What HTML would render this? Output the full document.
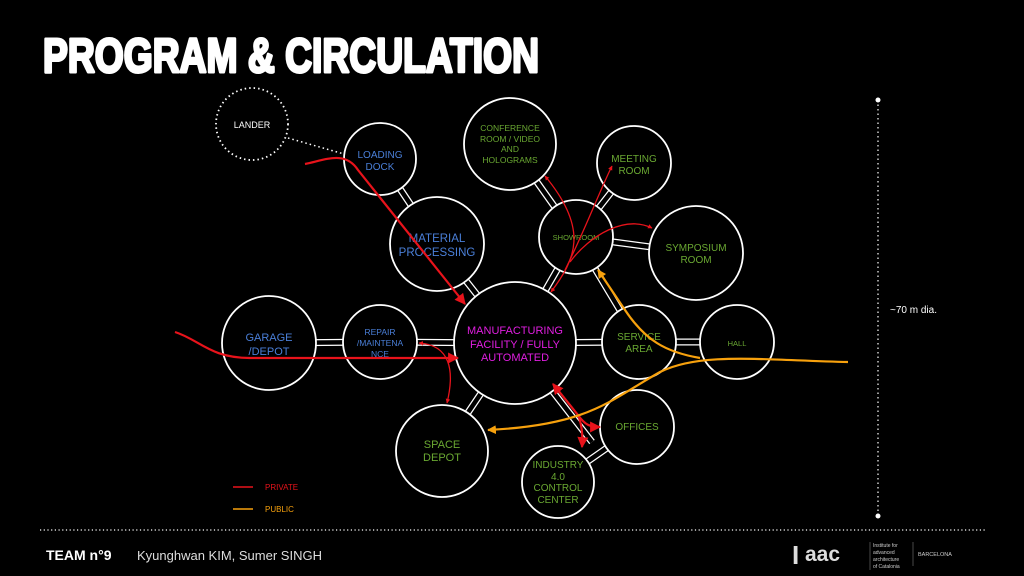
<!DOCTYPE html>
<html><head><meta charset="utf-8"><style>
html,body{margin:0;padding:0;background:#000;}
svg{display:block;}
text{font-family:"Liberation Sans",sans-serif;}
</style></head><body>
<svg width="1024" height="576" viewBox="0 0 1024 576" xmlns="http://www.w3.org/2000/svg">
<defs>
<marker id="ar" viewBox="0 0 10 10" refX="9" refY="5" markerWidth="5" markerHeight="5" orient="auto-start-reverse"><path d="M0,0 L10,5 L0,10 z" fill="#e8131b"/></marker>
<marker id="ar2" viewBox="0 0 10 10" refX="9" refY="5" markerWidth="3.5" markerHeight="3.5" orient="auto-start-reverse"><path d="M0,0 L10,5 L0,10 z" fill="#e8131b"/></marker>
<marker id="ao" viewBox="0 0 10 10" refX="9" refY="5" markerWidth="4" markerHeight="4" orient="auto-start-reverse"><path d="M0,0 L10,5 L0,10 z" fill="#f7a10d"/></marker>
</defs>
<rect width="1024" height="576" fill="#000"/>
<text x="43" y="72" font-size="48" font-weight="bold" fill="#fff" textLength="496" lengthAdjust="spacingAndGlyphs" stroke="#fff" stroke-width="3" stroke-linejoin="round">PROGRAM &amp; CIRCULATION</text>

<g stroke="#fff" stroke-width="7" fill="none">
<line x1="380" y1="159" x2="437" y2="244"/><line x1="437" y1="244" x2="515" y2="343"/>
<line x1="510" y1="144" x2="576" y2="237"/><line x1="634" y1="163" x2="576" y2="237"/>
<line x1="576" y1="237" x2="696" y2="253"/><line x1="576" y1="237" x2="515" y2="343"/>
<line x1="576" y1="237" x2="639" y2="342"/><line x1="639" y1="342" x2="737" y2="342"/>
<line x1="515" y1="343" x2="639" y2="342"/><line x1="269" y1="343" x2="380" y2="342"/>
<line x1="380" y1="342" x2="515" y2="343"/><line x1="515" y1="343" x2="442" y2="451"/>
<line x1="515" y1="343" x2="592" y2="442"/><line x1="637" y1="427" x2="558" y2="482"/>
</g>
<g stroke="#000" stroke-width="4.5" fill="none">
<line x1="380" y1="159" x2="437" y2="244"/><line x1="437" y1="244" x2="515" y2="343"/>
<line x1="510" y1="144" x2="576" y2="237"/><line x1="634" y1="163" x2="576" y2="237"/>
<line x1="576" y1="237" x2="696" y2="253"/><line x1="576" y1="237" x2="515" y2="343"/>
<line x1="576" y1="237" x2="639" y2="342"/><line x1="639" y1="342" x2="737" y2="342"/>
<line x1="515" y1="343" x2="639" y2="342"/><line x1="269" y1="343" x2="380" y2="342"/>
<line x1="380" y1="342" x2="515" y2="343"/><line x1="515" y1="343" x2="442" y2="451"/>
<line x1="515" y1="343" x2="592" y2="442"/><line x1="637" y1="427" x2="558" y2="482"/>
</g>
<line x1="288" y1="138" x2="344" y2="154" stroke="#fff" stroke-width="1.5" stroke-dasharray="1.5 3"/>

<g fill="#000" stroke="#fff" stroke-width="1.8">
<circle cx="252" cy="124" r="36" stroke-dasharray="1.5 3"/>
<circle cx="380" cy="159" r="36"/>
<circle cx="437" cy="244" r="47"/>
<circle cx="510" cy="144" r="46"/>
<circle cx="634" cy="163" r="37"/>
<circle cx="576" cy="237" r="37"/>
<circle cx="696" cy="253" r="47"/>
<circle cx="515" cy="343" r="61"/>
<circle cx="269" cy="343" r="47"/>
<circle cx="380" cy="342" r="37"/>
<circle cx="639" cy="342" r="37"/>
<circle cx="737" cy="342" r="37"/>
<circle cx="637" cy="427" r="37"/>
<circle cx="442" cy="451" r="46"/>
<circle cx="558" cy="482" r="36"/>
</g>

<g text-anchor="middle" font-size="10">
<text x="252" y="128" fill="#fff" font-size="9">LANDER</text>
<text x="380" y="158" fill="#4a7fd8">LOADING</text><text x="380" y="170" fill="#4a7fd8">DOCK</text>
<text x="437" y="242" fill="#4a7fd8" font-size="11.5">MATERIAL</text><text x="437" y="256" fill="#4a7fd8" font-size="11.5">PROCESSING</text>
<g fill="#6aa832" font-size="8.5"><text x="510" y="131">CONFERENCE</text><text x="510" y="142">ROOM / VIDEO</text><text x="510" y="152">AND</text><text x="510" y="163">HOLOGRAMS</text></g>
<text x="634" y="162" fill="#6aa832">MEETING</text><text x="634" y="174" fill="#6aa832">ROOM</text>
<text x="576" y="240" fill="#6aa832" font-size="7.5">SHOWROOM</text>
<text x="696" y="251" fill="#6aa832">SYMPOSIUM</text><text x="696" y="263" fill="#6aa832">ROOM</text>
<g fill="#e01ee0" font-size="11"><text x="515" y="334">MANUFACTURING</text><text x="515" y="348">FACILITY / FULLY</text><text x="515" y="361">AUTOMATED</text></g>
<text x="269" y="341" fill="#4a7fd8" font-size="11">GARAGE</text><text x="269" y="355" fill="#4a7fd8" font-size="11">/DEPOT</text>
<g fill="#4a7fd8" font-size="8.5"><text x="380" y="335">REPAIR</text><text x="380" y="346">/MAINTENA</text><text x="380" y="357">NCE</text></g>
<text x="639" y="340" fill="#6aa832">SERVICE</text><text x="639" y="352" fill="#6aa832">AREA</text>
<text x="737" y="346" fill="#6aa832" font-size="7.5">HALL</text>
<text x="637" y="430" fill="#6aa832">OFFICES</text>
<text x="442" y="448" fill="#6aa832" font-size="11">SPACE</text><text x="442" y="461" fill="#6aa832" font-size="11">DEPOT</text>
<g fill="#6aa832"><text x="558" y="468">INDUSTRY</text><text x="558" y="480">4.0</text><text x="558" y="491">CONTROL</text><text x="558" y="503">CENTER</text></g>
</g>

<g fill="none" stroke="#e8131b">
<path d="M305,164 C325,160 345,150 358,170 L465,304" stroke-width="2.2" marker-end="url(#ar)"/>
<path d="M175,332 C200,340 210,358 250,358 L458,358" stroke-width="2.2" marker-end="url(#ar)"/>
<path d="M419,343 C450,345 455,370 447,403" stroke-width="1.3" marker-start="url(#ar2)" marker-end="url(#ar2)"/>
<path d="M551,292 C575,260 590,230 545,176" stroke-width="1.3" marker-start="url(#ar2)" marker-end="url(#ar2)"/>
<path d="M565,270 C585,230 600,190 612,166" stroke-width="1.3" marker-end="url(#ar2)"/>
<path d="M570,262 C590,235 625,215 652,228" stroke-width="1.3" marker-end="url(#ar2)"/>
<path d="M553,384 L578,415 C585,425 590,427 600,427" stroke-width="2.2" marker-start="url(#ar)" marker-end="url(#ar)"/>
<path d="M578,415 C582,425 583,435 582,447" stroke-width="2.2" marker-end="url(#ar)"/>
</g>
<g fill="none" stroke="#f7a10d" stroke-width="2.2">
<path d="M848,362 C760,360 700,352 660,372 C610,400 590,425 488,430" marker-end="url(#ao)"/>
<path d="M700,358 C665,352 645,340 625,310 L598,270" marker-end="url(#ao)"/>
</g>

<line x1="878" y1="100" x2="878" y2="516" stroke="#fff" stroke-width="1.2" stroke-dasharray="1.5 3"/>
<circle cx="878" cy="100" r="2.5" fill="#fff"/><circle cx="878" cy="516" r="2.5" fill="#fff"/>
<text x="890" y="313" fill="#fff" font-size="10">~70 m dia.</text>

<line x1="233" y1="487" x2="253" y2="487" stroke="#e8131b" stroke-width="1.5"/>
<text x="265" y="490" fill="#e8131b" font-size="8">PRIVATE</text>
<line x1="233" y1="509" x2="253" y2="509" stroke="#f7a10d" stroke-width="1.5"/>
<text x="265" y="512" fill="#f7a10d" font-size="8">PUBLIC</text>

<line x1="40" y1="530" x2="985" y2="530" stroke="#fff" stroke-width="1.2" stroke-dasharray="1.2 2.5"/>
<text x="46" y="560" fill="#fff" font-size="14" font-weight="bold">TEAM n°9</text>
<text x="137" y="560" fill="#ddd" font-size="13">Kyunghwan KIM, Sumer SINGH</text>
<text x="792" y="564" fill="#ddd" font-size="26" font-weight="bold" font-family="Liberation Serif,serif">I</text>
<text x="805" y="561" fill="#ddd" font-size="21" font-weight="bold" font-family="Liberation Serif,serif">aac</text>
<g fill="#ccc" font-size="5"><text x="873" y="547">Institute for</text><text x="873" y="554">advanced</text><text x="873" y="561">architecture</text><text x="873" y="568">of Catalonia</text></g>
<line x1="870" y1="542" x2="870" y2="570" stroke="#777" stroke-width="0.6"/>
<line x1="913" y1="542" x2="913" y2="566" stroke="#777" stroke-width="0.6"/>
<text x="918" y="556" fill="#ccc" font-size="5.5">BARCELONA</text>
</svg>
</body></html>
